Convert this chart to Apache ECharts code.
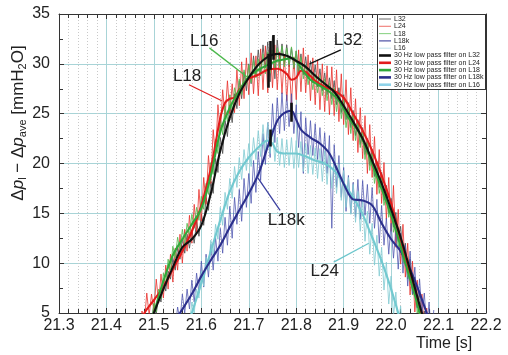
<!DOCTYPE html>
<html>
<head>
<meta charset="utf-8">
<script src="https://cdn.jsdelivr.net/npm/echarts@6/dist/echarts.min.js"></script>
<style>
html,body{margin:0;padding:0;background:#fff;}
#main{width:508px;height:355px;}
</style>
</head>
<body>
<div id="main"></div>
<script>
// ---- axis ticks ----
const xTickMin = 21.3, xTickMax = 22.2, xTickStep = 0.1;
const yTickMin = 5, yTickMax = 35, yTickStep = 5;

// ---- raw pressure traces, sampled every RAW_DT seconds ----
const RAW_DT = 0.005;

const l32RawStart = 21.495;
const l32Raw = [4.0,5.9,4.9,6.8,6.1,8.3,7.2,9.2,8.4,10.5,9.3,11.6,10.4,12.5,11.0,12.9,11.5,13.3,12.0,14.2,
  12.7,14.9,13.8,16.6,15.3,18.2,17.0,20.5,19.1,22.6,21.0,24.3,22.7,25.9,24.1,27.0,25.5,28.3,26.5,29.2,
  27.3,30.0,28.0,30.8,28.7,31.4,29.0,31.9,29.6,32.2,28.2,32.8,28.5,32.4,29.8,32.0,29.9,31.9,29.7,31.6,
  29.5,31.3,29.2,31.0,28.9,30.7,28.5,30.3,28.1,29.9,27.7,29.5,27.3,29.1,26.9,28.6,26.5,28.3,25.9,27.6,
  25.1,26.9,24.4,26.1,23.6,25.3,22.8,24.4,21.9,23.6,20.9,22.5,19.8,21.4,18.7,20.2,17.6,19.1,16.3,17.8,
  15.0,16.5,13.6,15.1,12.2,13.7,10.8,12.0,9.0,10.4,7.3,8.6,5.6,6.9,4.0,5.2,2.5];

const l24RawStart = 21.47;
const l24Raw = [3.0,5.2,4.1,7.0,4.8,6.9,5.2,8.4,6.0,8.9,6.5,9.8,7.4,10.9,8.1,11.5,9.3,12.9,10.0,13.4,
  11.2,14.8,12.0,15.9,13.1,17.4,14.2,18.6,15.9,20.8,18.0,23.4,20.7,25.9,23.0,27.4,24.6,28.3,25.0,28.0,
  25.1,29.4,25.8,30.2,26.5,30.6,26.9,31.1,27.0,30.8,26.8,31.5,27.4,31.8,27.1,31.6,27.6,31.9,27.4,31.2,
  27.0,30.9,26.3,30.1,26.0,30.7,26.4,31.4,27.2,31.6,27.1,30.9,26.3,30.6,25.9,30.4,25.4,30.0,25.2,29.8,
  24.9,29.7,24.8,29.4,24.2,29.0,23.9,28.4,22.9,27.6,22.3,26.5,21.1,25.6,20.5,24.8,19.0,23.9,18.6,22.7,
  16.9,21.4,16.0,20.1,14.4,18.6,13.2,17.8,11.6,15.4,9.9,13.9,8.6,12.0,6.8,10.2,5.1,8.3,4.0,6.9,
  3.2,5.5,2.5];

const l18RawStart = 21.49;
const l18Raw = [4.3,3.8,6.0,5.1,7.4,6.4,9.0,7.9,10.4,9.3,11.7,10.5,12.6,11.3,13.4,11.9,14.0,12.8,14.9,13.5,
  15.6,14.3,16.7,15.4,18.0,16.9,20.1,18.9,22.4,21.0,24.5,22.9,25.8,24.2,26.9,25.1,27.6,26.3,28.5,26.9,
  29.4,27.9,29.9,28.1,30.4,28.6,30.5,28.8,31.0,29.0,31.2,29.1,31.4,29.5,31.6,29.6,31.8,29.7,31.6,29.9,
  31.7,29.6,31.3,28.9,30.7,28.5,29.9,27.9,29.4,27.4,29.0,27.1,28.8,26.8,28.5,26.3,28.1,25.9,27.6,25.2,
  27.2,24.5,26.4,23.6,25.5,23.0,24.9,22.3,24.2,21.6,23.3,20.4,22.2,19.3,21.0,18.0,19.6,17.0,18.6,15.8,
  17.2,14.6,15.9,13.1,14.4,11.6,12.8,10.0,11.0,8.4,9.5,6.8,7.7,5.0,6.0,3.4,4.2];

const l18kRawStart = 21.545;
const l18kRaw = [3.5,5.6,4.2,6.9,5.0,7.4,5.4,8.3,6.1,9.0,7.0,10.2,7.6,10.9,8.6,11.9,9.3,12.6,10.2,13.5,
  11.0,14.6,11.8,15.7,12.5,16.6,13.9,17.4,14.2,18.5,15.6,19.0,16.0,20.3,17.1,21.2,18.3,23.0,19.9,24.1,
  20.6,26.0,22.1,26.6,23.0,27.1,23.3,26.9,23.7,27.0,23.0,25.9,21.6,25.2,19.0,24.6,20.9,24.3,20.8,24.0,
  20.4,23.6,19.9,23.1,19.0,22.8,13.5,21.9,17.6,20.8,16.6,19.6,15.2,18.8,15.0,18.1,14.6,18.4,14.4,18.3,
  14.8,17.9,14.0,17.6,13.5,16.4,12.0,15.8,11.8,14.5,10.9,14.0,10.5,13.4,9.4,13.0,9.0,11.8,7.7,11.2,
  6.9,9.6,5.5,8.4,4.9,7.0,3.4,6.1,2.5,5.3];

const l16RawStart = 21.57;
const l16Raw = [4.4,3.9,6.1,5.0,7.4,6.5,9.2,7.7,10.6,9.3,12.3,10.8,13.9,12.4,15.6,13.8,17.1,15.4,18.5,16.5,
  19.7,17.6,20.6,18.4,21.4,19.3,22.0,19.7,22.6,20.4,23.3,20.7,23.9,21.1,24.1,21.0,23.5,20.2,22.6,19.8,
  22.5,19.6,22.4,19.8,22.6,19.5,22.3,19.6,22.2,19.2,22.0,19.0,21.8,18.9,21.6,18.5,21.5,18.2,21.3,17.9,
  21.0,17.5,20.5,17.0,19.9,16.3,19.3,15.6,18.6,14.9,17.9,14.1,17.2,13.2,16.3,12.2,15.2,10.9,14.0,9.8,
  12.8,8.7,11.6,7.3,10.1,5.9,8.7,4.7,7.1,3.6,5.7,2.4];

// ---- 30 Hz low pass filtered traces ----
const l32FiltT = [21.495,21.50,21.52,21.54,21.56,21.58,21.60,21.62,21.64,21.66,21.68,21.70,21.72,21.74,21.76,21.78,21.80,21.82,21.84,21.86,21.88,21.90,21.92,21.94,21.96,21.98,22.00,22.02,22.04,22.06,22.07];
const l32FiltV = [4.3,5.0,7.4,9.6,11.6,12.4,13.8,17.0,21.3,24.6,27.0,28.6,29.9,30.7,31.0,30.8,30.3,29.7,28.8,28.0,27.2,25.8,24.2,22.5,20.3,18.0,15.4,12.6,9.3,5.8,4.2];

const l24FiltT = [21.47,21.48,21.50,21.52,21.54,21.56,21.58,21.60,21.62,21.63,21.64,21.65,21.66,21.67,21.68,21.70,21.72,21.74,21.76,21.78,21.79,21.80,21.81,21.82,21.84,21.86,21.88,21.90,21.92,21.94,21.96,21.98,22.00,22.02,22.04,22.06,22.07];
const l24FiltV = [3.9,5.0,6.3,7.6,9.4,11.2,13.2,15.8,19.5,22.0,24.6,26.1,26.5,26.6,27.4,28.5,28.9,29.4,29.5,29.0,28.4,28.6,29.3,29.2,28.3,27.7,27.3,26.6,25.0,23.3,21.3,18.8,16.0,12.3,8.8,5.5,4.0];

const l18FiltT = [21.49,21.50,21.52,21.54,21.56,21.58,21.60,21.62,21.64,21.66,21.68,21.70,21.72,21.74,21.76,21.78,21.79,21.80,21.81,21.83,21.85,21.87,21.89,21.91,21.93,21.95,21.97,21.99,22.01,22.03,22.05,22.06,22.07];
const l18FiltV = [3.5,5.0,8.2,10.8,12.4,13.9,15.5,18.8,23.2,25.6,27.3,28.7,29.4,29.9,30.3,30.5,30.6,30.3,29.6,28.4,27.8,27.2,26.3,24.6,23.3,21.2,18.7,16.2,13.3,10.0,6.8,5.0,3.2];

const l18kFiltT = [21.545,21.555,21.58,21.60,21.62,21.64,21.66,21.68,21.70,21.72,21.74,21.76,21.77,21.78,21.79,21.80,21.81,21.83,21.85,21.87,21.89,21.91,21.92,21.94,21.96,21.98,22.00,22.02,22.04,22.06,22.075,22.09];
const l18kFiltV = [4.2,5.0,6.9,8.7,10.3,11.8,13.6,15.3,17.0,18.9,21.7,24.3,24.9,25.2,25.3,24.4,23.4,22.6,22.0,21.0,19.0,17.0,16.4,16.3,15.8,14.0,12.4,11.2,9.4,7.0,5.0,3.0];

const l16FiltT = [21.57,21.58,21.60,21.62,21.64,21.66,21.68,21.70,21.72,21.74,21.75,21.76,21.78,21.80,21.82,21.84,21.86,21.88,21.90,21.92,21.94,21.96,21.98,22.00,22.015,22.025];
const l16FiltV = [3.6,5.0,8.0,11.2,14.3,17.2,19.2,20.6,21.6,22.3,22.0,21.2,21.0,21.0,20.7,20.3,20.0,19.3,18.0,16.6,14.9,12.6,10.2,7.4,5.0,3.4];

// ---- short transient spikes in the records ----
const spikeT  = [21.740,21.746,21.752,21.745,21.789];
const spikeLo = [27.6,29.4,30.4,21.7,24.2];
const spikeHi = [31.0,32.3,32.9,23.4,26.1];

// ---- curve labels (data coordinates) ----
const labelNames = ['L16','L18','L32','L18k','L24'];
const labelColors = ['#4cb84c','#e02020','#111111','#3a3f9f','#6cc6cc'];
const labelTextX = [21.606,21.570,21.909,21.779,21.860];
const labelTextY = [32.3,28.7,32.4,14.3,9.2];
const labelLineX1 = [21.617,21.574,21.894,21.766,21.879];
const labelLineY1 = [31.6,27.9,31.4,15.3,10.1];
const labelLineX2 = [21.696,21.643,21.828,21.717,21.953];
const labelLineY2 = [28.7,26.3,30.0,18.7,12.0];

const rawNames = ['L32','L24','L18','L18k','L16'];
const filtNames = rawNames.map(n => '30 Hz low pass filter on ' + n);

const FONT = '"Liberation Sans", Arial, Helvetica, sans-serif';

function sampled(start, vals) {
  return vals.map((v, i) => [Math.round((start + i * RAW_DT) * 1000) / 1000, v]);
}
function pairs(ts, vs) {
  return ts.map((t, i) => [t, vs[i]]);
}

const rawSets = [
  sampled(l32RawStart, l32Raw),
  sampled(l24RawStart, l24Raw),
  sampled(l18RawStart, l18Raw),
  sampled(l18kRawStart, l18kRaw),
  sampled(l16RawStart, l16Raw)
];
const filtSets = [
  pairs(l32FiltT, l32FiltV),
  pairs(l24FiltT, l24FiltV),
  pairs(l18FiltT, l18FiltV),
  pairs(l18kFiltT, l18kFiltV),
  pairs(l16FiltT, l16FiltV)
];

const rawColors  = ['#555555', '#e8302a', '#58bb50', '#4a52ae', '#86cdd3'];
const rawLegendColors = ['#777777', '#f07a74', '#8ed488', '#3c3f9c', '#c6e4ee'];
const rawOpacity = [0.9, 0.8, 0.85, 0.75, 0.85];
const filtColors = ['#111111', '#e21b1b', '#2fa83a', '#2b2f8c', '#72c9d0'];
const filtLegendColors = ['#111111', '#e21b1b', '#2fa83a', '#2b2f8c', '#8fd3ea'];
const filtOrder  = [4, 3, 1, 2, 0]; // drawing order of the filtered curves

const series = [];
rawSets.forEach((d, i) => {
  series.push({
    name: rawNames[i], type: 'line', data: d, symbol: 'none', z: 2,
    lineStyle: { color: rawColors[i], width: 1, opacity: rawOpacity[i] },
    itemStyle: { color: rawLegendColors[i] },
    animation: false, silent: true
  });
});
filtOrder.forEach(i => {
  series.push({
    name: filtNames[i], type: 'line', data: filtSets[i], symbol: 'none', z: 3,
    smooth: 0.35,
    lineStyle: { color: filtColors[i], width: 2.1 },
    itemStyle: { color: filtLegendColors[i] },
    animation: false, silent: true
  });
});
series.push({
  type: 'lines', coordinateSystem: 'cartesian2d', z: 4, silent: true, animation: false,
  lineStyle: { color: '#111', width: 2.6, opacity: 1 },
  data: spikeT.map((t, i) => ({ coords: [[t, spikeLo[i]], [t, spikeHi[i]]] }))
});

const tickStyle = { color: '#333', width: 1 };
function xAxisCfg(pos, labels) {
  return {
    type: 'value', position: pos, min: xTickMin, max: xTickMax, interval: xTickStep,
    axisLine: { show: true, onZero: false, lineStyle: tickStyle },
    axisTick: { show: true, inside: true, length: 5, lineStyle: tickStyle },
    minorTick: { show: true, splitNumber: 5, length: 4, lineStyle: tickStyle },
    splitLine: { show: labels, lineStyle: { color: '#a8d4d7', width: 1 } },
    minorSplitLine: { show: labels, lineStyle: { color: '#c9c9c9', width: 1, type: [1, 2] } },
    axisLabel: {
      show: labels, fontSize: 16, color: '#222', fontFamily: FONT, margin: 5,
      showMinLabel: true, showMaxLabel: true,
      formatter: v => v.toFixed(1)
    }
  };
}
function yAxisCfg(pos, labels) {
  return {
    type: 'value', position: pos, min: yTickMin, max: yTickMax, interval: yTickStep,
    axisLine: { show: true, onZero: false, lineStyle: tickStyle },
    axisTick: { show: true, inside: true, length: 5, lineStyle: tickStyle },
    minorTick: { show: true, splitNumber: 2, length: 4, lineStyle: tickStyle },
    splitLine: { show: labels, lineStyle: { color: '#a8d4d7', width: 1 } },
    axisLabel: { show: labels, fontSize: 16, color: '#222', fontFamily: FONT, margin: 9 }
  };
}

// legend block in the top right corner of the plot
const LEG_LEFT = 379, LEG_TOP = 14, LEG_ROW = 7.3;
function legendCfg(names, top, lineH) {
  return {
    data: names, orient: 'vertical', left: LEG_LEFT, top: top,
    icon: 'rect', itemWidth: 12, itemHeight: lineH, itemGap: LEG_ROW - 7,
    padding: 0, z: 10, selectedMode: false,
    textStyle: { fontSize: 7, lineHeight: 7, color: '#222', fontFamily: FONT, padding: [0, 0, 0, -2] }
  };
}

const chart = echarts.init(document.getElementById('main'), null, { renderer: 'canvas' });

chart.setOption({
  animation: false,
  backgroundColor: '#fff',
  grid: { left: 59, right: 22, top: 14, bottom: 42, containLabel: false },
  xAxis: [xAxisCfg('bottom', true), xAxisCfg('top', false)],
  yAxis: [yAxisCfg('left', true), yAxisCfg('right', false)],
  legend: [
    legendCfg(rawNames, LEG_TOP + 1.5, 1.1),
    legendCfg(filtNames, LEG_TOP + 1.5 + 5 * LEG_ROW, 2.6)
  ],
  series: series
});

// axis titles, legend frame and curve labels with leader lines
const extra = [
  {
    type: 'rect', z: 9, silent: true,
    shape: { x: 377.5, y: LEG_TOP + 0.5, width: 108, height: 75 },
    style: { fill: '#fff', stroke: '#333', lineWidth: 1 }
  },
  {
    type: 'text', x: 18, y: 123, rotation: Math.PI / 2, silent: true,
    style: {
      text: '{n|Δ}{i|p}{s|l}{n| − Δ}{i|p}{s|ave}{n| [mmH}{s|2}{n|O]}',
      align: 'center', verticalAlign: 'middle',
      rich: {
        n: { fontSize: 17, lineHeight: 21, fill: '#222', fontFamily: FONT },
        i: { fontSize: 17, lineHeight: 21, fill: '#222', fontFamily: FONT, fontStyle: 'italic' },
        s: { fontSize: 11, lineHeight: 12, fill: '#222', fontFamily: FONT, verticalAlign: 'bottom' }
      }
    }
  },
  {
    type: 'text', x: 416, y: 344, silent: true,
    style: { text: 'Time [s]', fontSize: 16, fill: '#222', fontFamily: FONT, verticalAlign: 'middle' }
  }
];
labelNames.forEach((name, i) => {
  const p = chart.convertToPixel({ gridIndex: 0 }, [labelTextX[i], labelTextY[i]]);
  const a = chart.convertToPixel({ gridIndex: 0 }, [labelLineX1[i], labelLineY1[i]]);
  const b = chart.convertToPixel({ gridIndex: 0 }, [labelLineX2[i], labelLineY2[i]]);
  extra.push({
    type: 'line', z: 20, silent: true,
    shape: { x1: a[0], y1: a[1], x2: b[0], y2: b[1] },
    style: { stroke: labelColors[i], lineWidth: 1.3 }
  });
  extra.push({
    type: 'text', z: 21, silent: true, x: p[0], y: p[1],
    style: { text: name, fontSize: 17, fill: '#222', fontFamily: FONT, align: 'center', verticalAlign: 'middle' }
  });
});
chart.setOption({ graphic: extra });
</script>
</body>
</html>
